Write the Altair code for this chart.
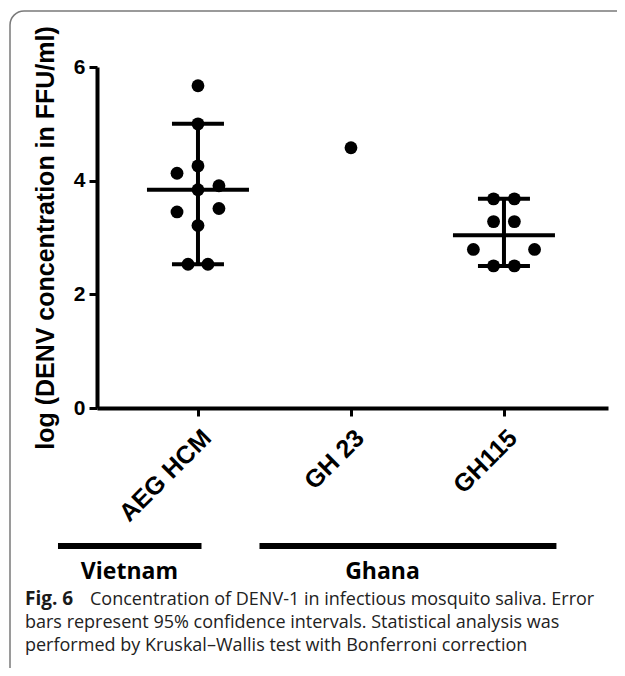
import json
import altair as alt
import pandas as pd

# ---------------- data ----------------
categories = ["AEG HCM", "GH 23", "GH115"]

point_group = ["AEG HCM"] * 11 + ["GH 23"] + ["GH115"] * 8
point_value = [5.67, 5.00, 4.26, 4.13, 3.91, 3.84, 3.51, 3.45, 3.21, 2.53, 2.53,
               4.58,
               3.68, 3.68, 3.28, 3.28, 2.79, 2.79, 2.50, 2.50]
point_jitter = [0, 0, 0, -0.137, 0.137, 0, 0.137, -0.137, 0, -0.065, 0.065,
                0,
                -0.068, 0.068, -0.068, 0.068, -0.2, 0.2, -0.068, 0.068]

stat_group = ["AEG HCM", "GH115"]
stat_mean = [3.84, 3.04]
stat_low = [2.53, 2.50]
stat_high = [5.00, 3.68]

country = ["Vietnam", "Ghana"]
country_start = [-0.915, 0.402]   # in category units
country_end = [0.023, 2.343]
country_label_x = [-0.448, 1.206]

y_ticks = [0, 2, 4, 6]
y_title = "log (DENV concentration in FFU/ml)"
caption_bold = "Fig. 6"
caption_lines = [
    "Concentration of DENV-1 in infectious mosquito saliva. Error",
    "bars represent 95% confidence intervals. Statistical analysis was",
    "performed by Kruskal\u2013Wallis test with Bonferroni correction",
]

# ---------------- tables ----------------
idx = {c: i for i, c in enumerate(categories)}
pts = pd.DataFrame({"group": point_group, "value": point_value, "jit": point_jitter})
pts["xpos"] = [idx[g] + j for g, j in zip(pts["group"], pts["jit"])]

stats = pd.DataFrame({"group": stat_group, "mean": stat_mean, "low": stat_low, "high": stat_high})
stats["xpos"] = [idx[g] for g in stats["group"]]

ctry = pd.DataFrame({"country": country, "start": country_start, "end": country_end,
                     "lx": country_label_x})

W, H = 511, 341
AX_FONT = "Liberation Sans"
CAP_FONT = "Open Sans"

xscale = alt.Scale(domain=[-0.66, 2.68], nice=False, zero=False)
yscale = alt.Scale(domain=[0, 6], nice=False, zero=True)

label_expr = json.dumps(categories) + "[datum.value]"

x_axis = alt.Axis(values=[0, 1, 2], labelExpr=label_expr, title=None, grid=False,
                  domainColor="black", domainWidth=4, tickColor="black", tickWidth=3,
                  tickSize=8, labelAngle=-45, labelAlign="right", labelBaseline="top",
                  labelFont=AX_FONT, labelFontWeight="bold", labelFontSize=25,
                  labelColor="black", labelPadding=9)
y_axis = alt.Axis(values=y_ticks, format="d", title=y_title, grid=False, domainColor="black",
                  domainWidth=4, tickColor="black", tickWidth=3, tickSize=8,
                  labelFont=AX_FONT, labelFontWeight="bold", labelFontSize=21,
                  labelColor="black", labelPadding=4,
                  titleFont=AX_FONT, titleFontWeight="bold", titleFontSize=25,
                  titleColor="black", titlePadding=15)

points = alt.Chart(pts).mark_circle(size=165, color="black", opacity=1).encode(
    x=alt.X("xpos:Q", scale=xscale, axis=x_axis),
    y=alt.Y("value:Q", scale=yscale, axis=y_axis),
)

whisker = alt.Chart(stats).mark_rule(color="black", strokeWidth=4).encode(
    x=alt.X("xpos:Q", scale=xscale), y=alt.Y("low:Q", scale=yscale), y2="high:Q")
mean_line = alt.Chart(stats).mark_tick(orient="horizontal", color="black", size=102,
                                       thickness=4, opacity=1).encode(
    x=alt.X("xpos:Q", scale=xscale), y=alt.Y("mean:Q", scale=yscale))
cap_low = alt.Chart(stats).mark_tick(orient="horizontal", color="black", size=52,
                                     thickness=4, opacity=1).encode(
    x=alt.X("xpos:Q", scale=xscale), y=alt.Y("low:Q", scale=yscale))
cap_high = alt.Chart(stats).mark_tick(orient="horizontal", color="black", size=52,
                                      thickness=4, opacity=1).encode(
    x=alt.X("xpos:Q", scale=xscale), y=alt.Y("high:Q", scale=yscale))

country_lines = alt.Chart(ctry).mark_rule(color="black", strokeWidth=6, clip=False).encode(
    x=alt.X("start:Q", scale=xscale), x2="end:Q", y=alt.value(479))
country_text = alt.Chart(ctry).mark_text(font=CAP_FONT, fontWeight="bold", fontSize=23,
                                         color="black", baseline="alphabetic",
                                         clip=False).encode(
    x=alt.X("lx:Q", scale=xscale), y=alt.value(512), text="country:N")

one = alt.Data(values=[{}])
frame = alt.Chart(one).mark_rect(filled=False, stroke="#7a7a7a", strokeWidth=1.5,
                                 cornerRadius=14, clip=False).encode(
    x=alt.value(-87), x2=alt.value(700), y=alt.value(-56), y2=alt.value(700))

cap0 = alt.Chart(one).mark_text(font=CAP_FONT, fontWeight="bold", fontSize=19, color="#1a1a1a",
                                align="left", baseline="alphabetic", text=caption_bold).encode(
    x=alt.value(-72), y=alt.value(538))
cap_layers = []
cap_x = [-7, -72, -72]
cap_y = [538, 561, 584]
for line, cx, cy in zip(caption_lines, cap_x, cap_y):
    cap_layers.append(
        alt.Chart(one).mark_text(font=CAP_FONT, fontSize=18, color="#222",
                                 align="left", baseline="alphabetic", text=line).encode(
            x=alt.value(cx), y=alt.value(cy)))

chart = alt.layer(frame, whisker, mean_line, cap_low, cap_high, points,
                  country_lines, country_text, cap0, *cap_layers).properties(
    width=W, height=H,
    autosize=alt.AutoSizeParams(type="none"),
    padding={"left": 89, "top": 59, "right": 9, "bottom": 260},
).configure(background="white", view=alt.ViewConfig(stroke=None))

chart.save("out.html", embed_options={"renderer": "svg", "actions": False})
